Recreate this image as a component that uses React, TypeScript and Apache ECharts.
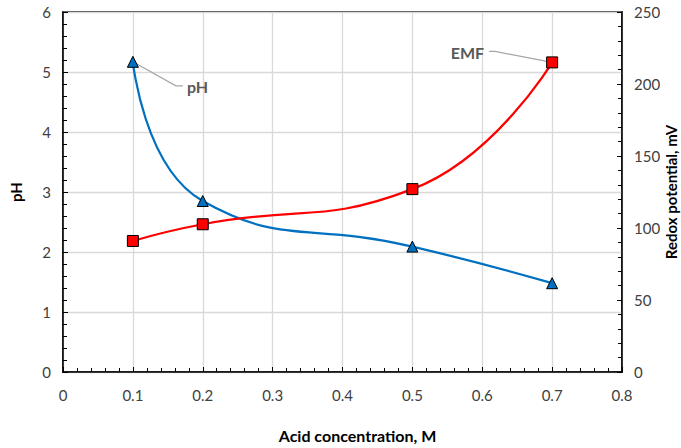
import React, { useEffect, useRef } from "react";
import * as echarts from "echarts";

const xValues = [0.1, 0.2, 0.5, 0.7];
const phValues = [5.17, 2.85, 2.09, 1.48];
const emfValues = [91, 102.6, 127, 215];
const xTitle = "Acid concentration, M";
const leftTitle = "pH";
const rightTitle = "Redox potential, mV";

const FONT = "Lato";
const TICK_COLOR = "#404040";

export default function App() {
  const ref = useRef<HTMLDivElement>(null);
  useEffect(() => {
    document.body.style.margin = "0";
    const chart = echarts.init(ref.current!, null, { renderer: "svg" });
    const axisLine = { show: true, lineStyle: { color: "#000", width: 1.5 } };
    const option: any = {
      animation: false,
      textStyle: { fontFamily: FONT },
      grid: {
        left: 63,
        right: 59,
        top: 12,
        bottom: 76,
        containLabel: false,
        outerBoundsMode: "none",
        show: true,
        borderColor: "#000",
        borderWidth: 1.5,
      },
      xAxis: {
        type: "value",
        min: 0,
        max: 0.8,
        interval: 0.1,
        name: xTitle,
        nameLocation: "middle",
        nameGap: 55,
        nameMoveOverlap: false,
        nameTextStyle: {
          fontFamily: FONT,
          fontWeight: "bold",
          fontSize: 16,
          color: "#000",
          padding: [0, 0, 0, 30],
        },
        axisLine,
        axisTick: { show: true, inside: true, length: 5, lineStyle: { color: "#000" } },
        minorTick: { show: true, splitNumber: 5, length: 4, lineStyle: { color: "#000" } },
        axisLabel: {
          margin: 15,
          fontSize: 15,
          color: TICK_COLOR,
          fontFamily: FONT,
          formatter: (v: number) => (v === 0 ? "0" : String(+v.toFixed(1))),
        },
        splitLine: { show: true, lineStyle: { color: "#d9d9d9", width: 1.3 } },
      },
      yAxis: [
        {
          type: "value",
          min: 0,
          max: 6,
          interval: 1,
          name: leftTitle,
          nameLocation: "middle",
          nameGap: 40,
          nameMoveOverlap: false,
          nameTextStyle: { fontFamily: FONT, fontWeight: "bold", fontSize: 15, color: "#000" },
          axisLine,
          axisTick: { show: true, inside: true, length: 5, lineStyle: { color: "#000" } },
          minorTick: { show: true, splitNumber: 5, length: 4, lineStyle: { color: "#000" } },
          axisLabel: { margin: 12, fontSize: 15, color: TICK_COLOR, fontFamily: FONT },
          splitLine: { show: true, lineStyle: { color: "#d9d9d9", width: 1.3 } },
        },
        {
          type: "value",
          min: 0,
          max: 250,
          interval: 50,
          position: "right",
          name: rightTitle,
          nameLocation: "middle",
          nameGap: 41,
          nameRotate: 90,
          nameMoveOverlap: false,
          nameTextStyle: { fontFamily: FONT, fontWeight: "bold", fontSize: 15, color: "#000" },
          axisLine,
          axisTick: { show: true, inside: true, length: 5, lineStyle: { color: "#000" } },
          minorTick: { show: true, splitNumber: 5, length: 4, lineStyle: { color: "#000" } },
          axisLabel: { margin: 12, fontSize: 15, color: TICK_COLOR, fontFamily: FONT },
          splitLine: { show: false },
        },
      ],
      series: [
        {
          name: "pH",
          type: "line",
          yAxisIndex: 0,
          smooth: 0.5,
          data: xValues.map((x, i) => [x, phValues[i]]),
          symbol: "triangle",
          symbolSize: 11,
          lineStyle: { color: "#0070C0", width: 2.25 },
          itemStyle: { color: "#0070C0", borderColor: "#000", borderWidth: 1 },
          z: 3,
        },
        {
          name: "EMF",
          type: "line",
          yAxisIndex: 1,
          smooth: 0.5,
          data: xValues.map((x, i) => [x, emfValues[i]]),
          symbol: "rect",
          symbolSize: 11,
          lineStyle: { color: "#FF0000", width: 2.25 },
          itemStyle: { color: "#FF0000", borderColor: "#000", borderWidth: 1 },
          z: 3,
        },
      ],
    };
    chart.setOption(option);

    const p0 = chart.convertToPixel({ seriesIndex: 0 }, [xValues[0], phValues[0]]) as number[];
    const n = xValues.length - 1;
    const p3 = chart.convertToPixel({ seriesIndex: 1 }, [xValues[n], emfValues[n]]) as number[];
    const labelStyle = { fontFamily: FONT, fontWeight: "bold", fontSize: 16, fill: "#595959" };
    const lineStyle = { stroke: "#a6a6a6", lineWidth: 1.25, fill: null };
    chart.setOption({
      graphic: [
        {
          type: "polyline",
          z: 1,
          shape: { points: [[p0[0], p0[1]], [p0[0] + 43, p0[1] + 24], [p0[0] + 50, p0[1] + 24]] },
          style: lineStyle,
        },
        {
          type: "text",
          z: 5,
          x: p0[0] + 54,
          y: p0[1] + 25,
          style: { ...labelStyle, text: "pH", textAlign: "left", textVerticalAlign: "middle" },
        },
        {
          type: "polyline",
          z: 1,
          shape: { points: [[p3[0], p3[1]], [p3[0] - 57, p3[1] - 11], [p3[0] - 63, p3[1] - 11]] },
          style: lineStyle,
        },
        {
          type: "text",
          z: 5,
          x: p3[0] - 68,
          y: p3[1] - 10,
          style: { ...labelStyle, text: "EMF", textAlign: "right", textVerticalAlign: "middle" },
        },
      ],
    });
    return () => chart.dispose();
  }, []);
  return <div ref={ref} style={{ width: 681, height: 448 }} />;
}
